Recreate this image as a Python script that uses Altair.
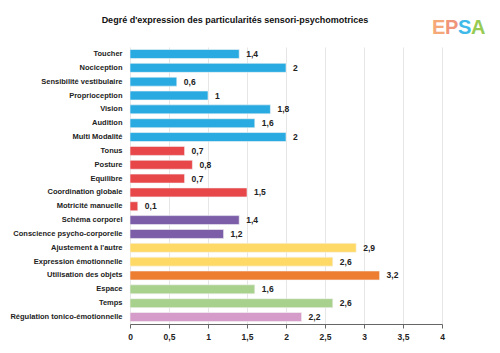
import altair as alt
import pandas as pd

title_text = "Degré d'expression des particularités sensori-psychomotrices"
categories = [
    "Toucher", "Nociception", "Sensibilité vestibulaire", "Proprioception",
    "Vision", "Audition", "Multi Modalité", "Tonus", "Posture", "Equilibre",
    "Coordination globale", "Motricité manuelle", "Schéma corporel",
    "Conscience psycho-corporelle", "Ajustement à l'autre",
    "Expression émotionnelle", "Utilisation des objets", "Espace", "Temps",
    "Régulation tonico-émotionnelle",
]
values = [1.4, 2, 0.6, 1, 1.8, 1.6, 2, 0.7, 0.8, 0.7, 1.5, 0.1, 1.4, 1.2,
          2.9, 2.6, 3.2, 1.6, 2.6, 2.2]
groups = ["sens"] * 7 + ["moteur"] * 5 + ["corps"] * 2 + ["relation"] * 2 + \
         ["objets"] + ["espace"] * 2 + ["regulation"]
group_names = ["sens", "moteur", "corps", "relation", "objets", "espace", "regulation"]
group_colors = ["#29ABE2", "#E8474A", "#7B5EA7", "#FFD966", "#ED7D31", "#A9D18E", "#D59CC9"]
x_ticks = [0, 0.5, 1, 1.5, 2, 2.5, 3, 3.5, 4]

logo_letters = ["E", "P", "S", "A"]
logo_colors = ["#F4A06A", "#F08A6C", "#2BB3E6", "#8DC63F"]
logo_px = [302, 315, 328, 341]

df = pd.DataFrame({"cat": categories, "val": values, "grp": groups})
logo_df = pd.DataFrame({"l": logo_letters})
title_df = pd.DataFrame({"t": [title_text]})

FONT = "Liberation Sans"

base = alt.Chart(df).encode(
    y=alt.Y("cat:N", sort=categories, title=None,
            scale=alt.Scale(paddingInner=0.35, paddingOuter=0.18),
            axis=alt.Axis(domain=False, ticks=False, labelFont=FONT,
                          labelFontWeight="bold", labelFontSize=7.5,
                          labelColor="#222222", labelPadding=8)),
    x=alt.X("val:Q", title=None,
            scale=alt.Scale(domain=[0, 4], nice=False),
            axis=alt.Axis(values=x_ticks, labelOverlap=False,
                          labelExpr="replace(toString(datum.value), '.', ',')",
                          labelFont=FONT, labelFontWeight="bold", labelFontSize=8.5,
                          labelColor="#222222", labelPadding=4,
                          domainColor="#666666", tickColor="#666666", tickSize=4,
                          grid=True, gridColor="#e6e6e6", labelFlush=False)),
)

bars = base.mark_bar(stroke="#f4f4f4", strokeWidth=0.6).encode(
    color=alt.Color("grp:N", scale=alt.Scale(domain=group_names, range=group_colors),
                    legend=None),
)

labels = base.mark_text(align="left", baseline="middle", dx=7, font=FONT,
                        fontWeight="bold", fontSize=8.5, color="#222222").transform_calculate(
    lab="replace(toString(datum.val), '.', ',')"
).encode(text="lab:N")

title = alt.Chart(title_df).mark_text(
    font=FONT, fontWeight="bold", fontSize=9, color="#111111",
    align="center", baseline="alphabetic"
).encode(text="t:N", x=alt.value(105), y=alt.value(-24))

logo_layers = []
for letter, col, px in zip(logo_letters, logo_colors, logo_px):
    logo_layers.append(
        alt.Chart(logo_df).transform_filter(alt.datum.l == letter).mark_text(
            font=FONT, fontWeight="bold", fontSize=20, baseline="alphabetic",
            align="left", color=col, opacity=0.9
        ).encode(text="l:N", x=alt.value(px), y=alt.value(-13))
    )

chart = alt.layer(bars, labels, title, *logo_layers).properties(
    width=312, height=277,
    autosize=alt.AutoSizeParams(type="none"),
    padding={"left": 130, "top": 47, "right": 58, "bottom": 29},
).configure_view(stroke=None)

chart.save("out.html", embed_options={"renderer": "svg", "actions": False})
